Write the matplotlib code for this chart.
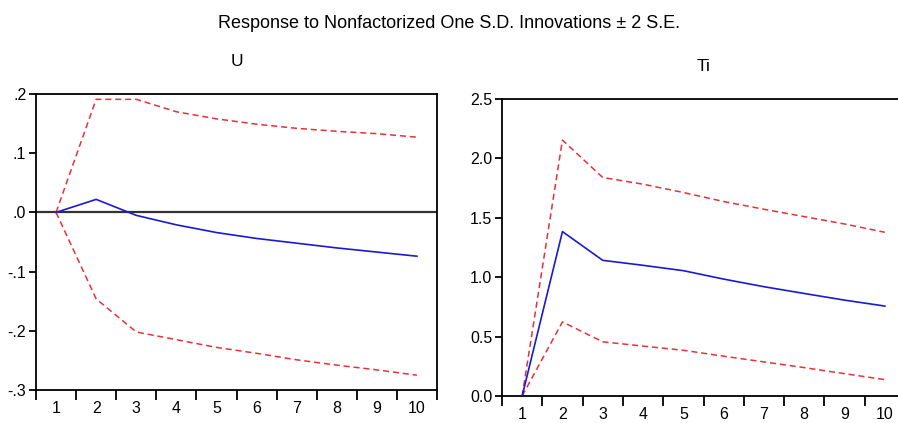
import matplotlib
matplotlib.use("Agg")
import matplotlib.pyplot as plt
from matplotlib.ticker import FixedLocator

plt.rcParams['font.family'] = ['Liberation Sans', 'DejaVu Sans']

# periods
periods = [1, 2, 3, 4, 5, 6, 7, 8, 9, 10]

# response of U
u_resp = [0.0, 0.022, -0.005, -0.021, -0.034, -0.044, -0.052, -0.060, -0.067, -0.074]
u_upper = [0.0, 0.191, 0.191, 0.170, 0.158, 0.149, 0.142, 0.137, 0.133, 0.127]
u_lower = [0.0, -0.146, -0.202, -0.215, -0.228, -0.238, -0.249, -0.258, -0.266, -0.275]
u_ticks = [-0.3, -0.2, -0.1, 0.0, 0.1, 0.2]
u_labels = ['-.3', '-.2', '-.1', '.0', '.1', '.2']

# response of Ti
ti_resp = [0.0, 1.384, 1.142, 1.100, 1.055, 0.984, 0.920, 0.863, 0.807, 0.757]
ti_upper = [0.0, 2.154, 1.839, 1.783, 1.713, 1.637, 1.572, 1.510, 1.448, 1.378]
ti_lower = [0.0, 0.624, 0.456, 0.420, 0.385, 0.335, 0.287, 0.239, 0.188, 0.138]
ti_ticks = [0.0, 0.5, 1.0, 1.5, 2.0, 2.5]
ti_labels = ['0.0', '0.5', '1.0', '1.5', '2.0', '2.5']

blue = '#1a1ad0'
red = '#e8303a'

fig = plt.figure(figsize=(8.98, 4.23), dpi=100)
fig.text(0.5, 1 - 24 / 423, 'Response to Nonfactorized One S.D. Innovations \u00b1 2 S.E.',
         ha='center', va='center', fontsize=13)

ax1 = fig.add_axes([36 / 898, 33 / 423, 401 / 898, 296 / 423])
ax2 = fig.add_axes([502 / 898, 27 / 423, 403 / 898, 297 / 423])


def draw(ax, resp, upper, lower, ticks, labels, title, zero_line):
    if zero_line:
        ax.axhline(0, color='#333333', lw=1.6, zorder=1)
    ax.plot(periods, upper, color=red, lw=1.1, ls=(0, (4, 2.5)), zorder=2)
    ax.plot(periods, lower, color=red, lw=1.1, ls=(0, (4, 2.5)), zorder=2)
    ax.plot(periods, resp, color=blue, lw=1.2, zorder=3)
    ax.set_xlim(0.5, 10.5)
    ax.set_ylim(ticks[0], ticks[-1])
    ax.set_yticks(ticks)
    ax.set_yticklabels(labels)
    # tick marks sit between periods, labels sit on the periods
    ax.xaxis.set_major_locator(FixedLocator([p + 0.5 for p in [0] + periods]))
    ax.xaxis.set_major_formatter(plt.NullFormatter())
    ax.xaxis.set_minor_locator(FixedLocator(periods))
    ax.set_xticklabels([str(p) for p in periods], minor=True)
    ax.tick_params(axis='x', which='major', direction='out', length=7, width=1.3)
    ax.tick_params(axis='x', which='minor', length=0, pad=8, labelsize=11.5)
    ax.tick_params(axis='y', direction='out', length=5, width=1.3, pad=2, labelsize=11.5)
    for s in ax.spines.values():
        s.set_linewidth(1.3)
    ax.set_title(title, fontsize=12.5, pad=20)


draw(ax1, u_resp, u_upper, u_lower, u_ticks, u_labels, 'U', True)
draw(ax2, ti_resp, ti_upper, ti_lower, ti_ticks, ti_labels, 'Ti', False)

fig.savefig('out.png', dpi=100)
